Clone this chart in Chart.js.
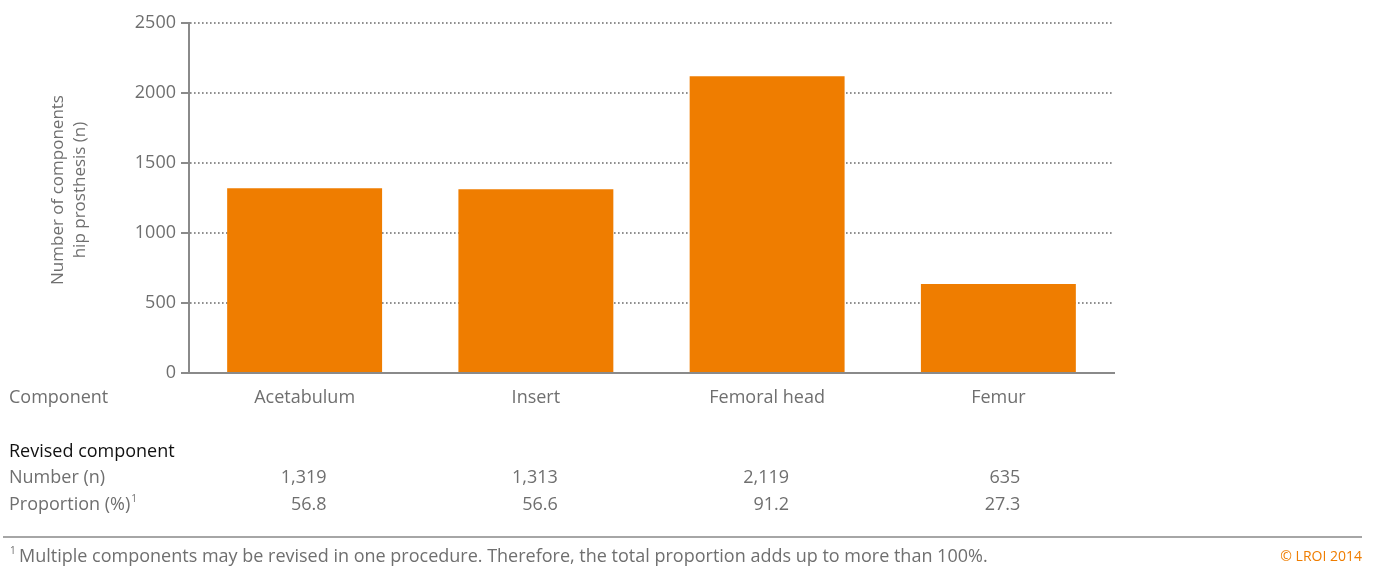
<!DOCTYPE html>
<html>
<head>
<meta charset="utf-8">
<script src="https://cdn.jsdelivr.net/npm/chart.js@4"></script>
<style>
  html, body { margin: 0; padding: 0; background: #fff; }
  #wrap { width: 1379px; height: 566px; position: relative; }
</style>
</head>
<body>
<div id="wrap"><canvas id="revChart" width="1379" height="566"></canvas></div>
<script>
const components = ['Acetabulum', 'Insert', 'Femoral head', 'Femur'];
const revisedCounts = [1319, 1313, 2119, 635];
const proportionLabels = ['56.8', '56.6', '91.2', '27.3'];
const yTicks = [0, 500, 1000, 1500, 2000, 2500];

const FONT = '"Open Sans", sans-serif';
const GREY = '#6f6f6f';
const ORANGE = '#ef7d00';

// labels under the axis, the little table and the footnote
const tablePlugin = {
  id: 'tableText',
  afterDraw(chart) {
    const ctx = chart.ctx;
    const x = chart.scales.x;
    ctx.save();
    ctx.textBaseline = 'middle';
    ctx.font = '17px ' + FONT;
    ctx.fillStyle = GREY;

    // y axis title, two rotated lines
    ctx.save();
    ctx.translate(58, 190);
    ctx.rotate(-Math.PI / 2);
    ctx.textAlign = 'center';
    ctx.fillText('Number of components', 0, 0);
    ctx.fillText('hip prosthesis (n)', 0, 22);
    ctx.restore();

    ctx.font = '18px ' + FONT;
    ctx.textAlign = 'left';
    ctx.fillText('Component', 9, 398);
    ctx.fillText('Number (n)', 9, 478);
    ctx.fillText('Proportion (%)', 9, 505);
    const pw = ctx.measureText('Proportion (%)').width;
    ctx.font = '10px ' + FONT;
    ctx.fillText('1', 9 + pw + 1, 499);

    ctx.font = '18px ' + FONT;
    ctx.fillStyle = '#111';
    ctx.fillText('Revised component', 9, 452);

    ctx.fillStyle = GREY;
    components.forEach((name, i) => {
      const cx = x.getPixelForValue(i);
      ctx.textAlign = 'center';
      ctx.fillText(name, cx, 398);
      ctx.textAlign = 'right';
      ctx.fillText(revisedCounts[i].toLocaleString('en-US'), cx + 22, 478);
      ctx.fillText(proportionLabels[i], cx + 22, 505);
    });

    // separator
    ctx.strokeStyle = '#a6a6a6';
    ctx.lineWidth = 2;
    ctx.beginPath();
    ctx.moveTo(3, 537);
    ctx.lineTo(1362, 537);
    ctx.stroke();

    // footnote
    ctx.font = '10px ' + FONT;
    ctx.textAlign = 'left';
    ctx.fillText('1', 10, 551);
    ctx.font = '18px ' + FONT;
    ctx.fillText('Multiple components may be revised in one procedure. Therefore, the total proportion adds up to more than 100%.', 19, 557);
    ctx.font = '14px ' + FONT;
    ctx.fillStyle = ORANGE;
    ctx.textAlign = 'right';
    ctx.fillText('\u00A9 LROI 2014', 1362, 557);
    ctx.restore();
  }
};

new Chart(document.getElementById('revChart'), {
  type: 'bar',
  data: {
    labels: components,
    datasets: [{
      data: revisedCounts,
      backgroundColor: ORANGE,
      borderWidth: 0,
      barPercentage: 0.67,
      categoryPercentage: 1.0
    }]
  },
  options: {
    responsive: false,
    animation: false,
    layout: { padding: { left: 0, top: 23, right: 265, bottom: 193 } },
    plugins: { legend: { display: false }, tooltip: { enabled: false } },
    scales: {
      x: {
        ticks: { display: false },
        grid: { display: false, drawTicks: false },
        border: { display: true, color: '#8a8a8a', width: 2 },
        afterFit(scale) { scale.height = 0; }
      },
      y: {
        min: 0,
        max: 2500,
        afterBuildTicks(scale) { scale.ticks = yTicks.map(v => ({ value: v })); },
        afterFit(scale) { scale.width = 189; },
        ticks: {
          color: GREY,
          font: { family: FONT, size: 18 },
          padding: 5,
          callback: v => String(v)
        },
        grid: {
          color: c => (c.tick && c.tick.value === 0) ? 'rgba(0,0,0,0)' : '#8f8f8f',
          lineWidth: 2,
          tickLength: 8,
          tickColor: '#8a8a8a',
          tickWidth: 2,
          tickBorderDash: []
        },
        border: { display: true, color: '#8a8a8a', width: 2, dash: [1.6, 2.4] }
      }
    }
  },
  plugins: [tablePlugin]
});
</script>
</body>
</html>
